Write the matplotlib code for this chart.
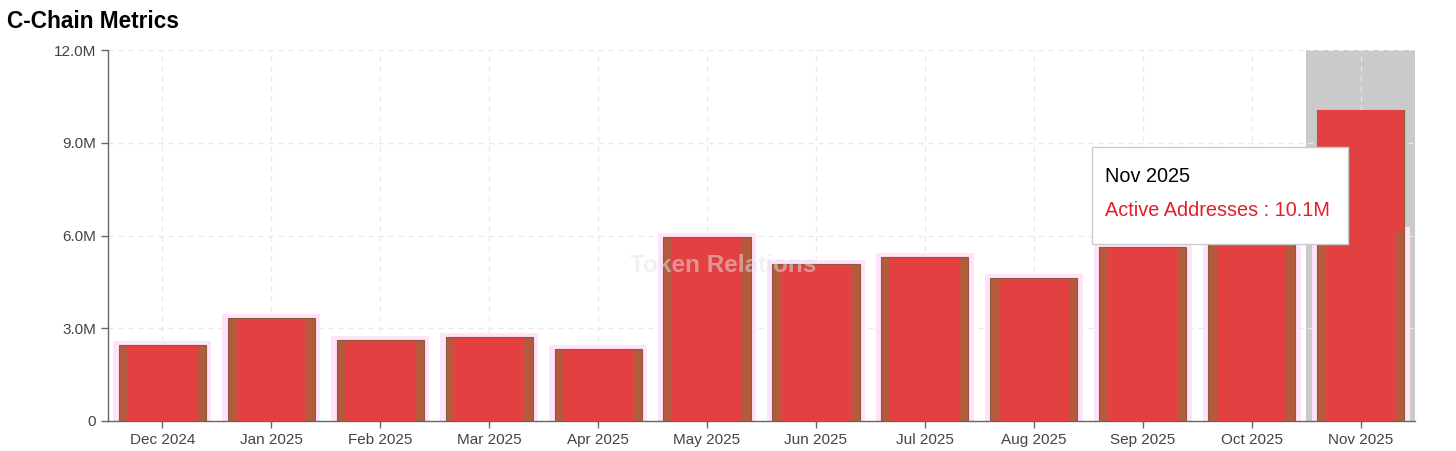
#!/usr/bin/env python3
import matplotlib
matplotlib.use("Agg")
import matplotlib.pyplot as plt
from matplotlib.patches import Rectangle
from matplotlib.ticker import FuncFormatter

plt.rcParams["font.family"] = ["Liberation Sans", "DejaVu Sans"]

MONTHS = ["Dec 2024", "Jan 2025", "Feb 2025", "Mar 2025", "Apr 2025", "May 2025",
          "Jun 2025", "Jul 2025", "Aug 2025", "Sep 2025", "Oct 2025", "Nov 2025"]
# active addresses, millions
ACTIVE = [2.46, 3.33, 2.62, 2.72, 2.33, 5.95, 5.08, 5.31, 4.63, 5.63, 5.80, 10.06]
# the pink/brown "ghost" layer behind the bars (Nov one is stuck at an older height)
GHOST = [2.46, 3.33, 2.62, 2.72, 2.33, 5.95, 5.08, 5.31, 4.63, 5.63, 5.80, 6.15]
Y_TICKS = [0, 3, 6, 9, 12]
HOVER = 11  # highlighted month

RED = "#e34141"
BROWN = "#b65a3e"
GLOW = "#ffe3fb"


def fmt(v, _):
    return "0" if v == 0 else f"{v:.1f}M"


def main():
    fig = plt.figure(figsize=(14.56, 4.51), dpi=100)
    ax = fig.add_axes([108 / 1456, 30 / 451, 1307 / 1456, 371 / 451])
    x = list(range(len(MONTHS)))

    ax.axvspan(HOVER - 0.5, HOVER + 0.5, color="#cacaca", zorder=0.5, lw=0)

    # glow + brown edge strips + red fill
    ax.bar(x, [g + 0.12 for g in GHOST], width=0.9, color=GLOW, zorder=1, lw=0)
    ax.bar(x, GHOST, width=0.8, color=BROWN, zorder=2, lw=0)
    ax.bar(x, ACTIVE, width=0.8, color="none", edgecolor="#8e5a3a", lw=0.8, zorder=2.1)
    inner = [a - 0.04 if a == g else a for a, g in zip(ACTIVE, GHOST)]
    ax.bar(x, inner, width=0.64, color=RED, zorder=3, lw=0)
    # above the ghost layer the Nov bar is plain red at full width
    ax.bar([HOVER], [ACTIVE[HOVER] - GHOST[HOVER]], bottom=[GHOST[HOVER]], width=0.8,
           color=RED, zorder=3, lw=0)

    ax.set_xlim(-0.5, len(MONTHS) - 0.5)
    ax.set_ylim(0, 12)
    ax.set_yticks(Y_TICKS)
    ax.yaxis.set_major_formatter(FuncFormatter(fmt))
    ax.set_xticks(x)
    ax.set_xticklabels(MONTHS)
    ax.tick_params(colors="#666666", labelcolor="#444444", labelsize=11, length=5, width=1)

    ax.grid(True, color="#e8e8e8", linestyle=(0, (4, 4)), linewidth=0.9, zorder=0)
    ax.set_axisbelow(True)
    for s in ("top", "right"):
        ax.spines[s].set_visible(False)
    for s in ("left", "bottom"):
        ax.spines[s].set_color("#666666")
        ax.spines[s].set_linewidth(1)

    fig.text(7 / 1456, 1 - 22 / 451, "C-Chain Metrics", fontsize=16.3, fontweight="bold",
             va="center", ha="left", color="black")

    fig.text(723 / 1456, 1 - 265 / 451, "Token Relations", fontsize=17.5, fontweight="bold",
             ha="center", va="center", color="#e2e5ea", alpha=0.5, zorder=5)

    # tooltip
    fig.patches.append(Rectangle((1092 / 1456, 1 - 244 / 451), 256 / 1456, 97 / 451,
                                 transform=fig.transFigure, facecolor="white",
                                 edgecolor="#cccccc", lw=1, zorder=6))
    fig.text(1105 / 1456, 1 - 176 / 451, MONTHS[HOVER], fontsize=14.3, color="black",
             va="center", ha="left", zorder=7)
    fig.text(1105 / 1456, 1 - 211 / 451, f"Active Addresses : {ACTIVE[HOVER]:.1f}M",
             fontsize=14.3, color="#e0202a", va="center", ha="left", zorder=7)

    fig.savefig("out.png", dpi=100)
    plt.close(fig)


if __name__ == "__main__":
    main()
